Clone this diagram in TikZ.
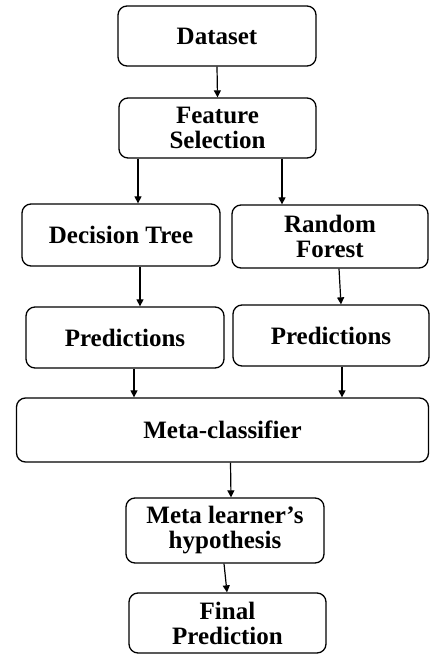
\documentclass[tikz,border=0pt]{standalone}
\usepackage{fontspec}
\setmainfont{Liberation Serif}
\usetikzlibrary{arrows.meta}
\begin{document}
\begin{tikzpicture}[x=1pt,y=-1pt,
  box/.style={draw, line width=1.3pt, rounded corners=9pt, align=center,
    font=\fontsize{25}{25}\selectfont\bfseries, inner sep=0pt},
  arr/.style={draw, line width=1.2pt, -{Triangle[length=7pt,width=7pt]}}]
\useasboundingbox (0,0) rectangle (430,655);
\node[box, minimum width=198pt, minimum height=60pt] (ds) at (217,36) {Dataset};
\node[box, minimum width=197pt, minimum height=60pt] (fs) at (217.5,128) {Feature\\Selection};
\node[box, minimum width=198pt, minimum height=62pt] (dt) at (121,235) {Decision Tree};
\node[box, minimum width=196pt, minimum height=63pt] (rf) at (330,236.5) {Random\\Forest};
\node[box, minimum width=198pt, minimum height=61pt] (pl) at (125,337.5) {Predictions};
\node[box, minimum width=196pt, minimum height=61pt] (pr) at (331,335.5) {Predictions};
\node[box, minimum width=412pt, minimum height=64pt] (mc) at (222.5,430) {Meta-classifier};
\node[box, minimum width=198pt, minimum height=65pt] (mlh) at (225,530.5) {Meta learner’s\\hypothesis};
\node[box, minimum width=197pt, minimum height=60pt] (fp) at (227.5,623) {Final\\Prediction};
\draw[arr] (ds.south) -- (fs.north);
\draw[arr] ([xshift=-79.5pt]fs.south) -- ([xshift=17pt]dt.north);
\draw[arr] ([xshift=64.5pt]fs.south) -- ([xshift=-48pt]rf.north);
\draw[arr] ([xshift=19pt]dt.south) -- ([xshift=15pt]pl.north);
\draw[arr] ([xshift=9pt]rf.south) -- ([xshift=10pt]pr.north);
\draw[arr] ([xshift=9pt]pl.south) -- ([xshift=-88.5pt]mc.north);
\draw[arr] ([xshift=11pt]pr.south) -- ([xshift=119.5pt]mc.north);
\draw[arr] ([xshift=8pt]mc.south) -- ([xshift=6pt]mlh.north);
\draw[arr] ([xshift=-1pt]mlh.south) -- ([xshift=-0.5pt]fp.north);
\end{tikzpicture}
\end{document}
